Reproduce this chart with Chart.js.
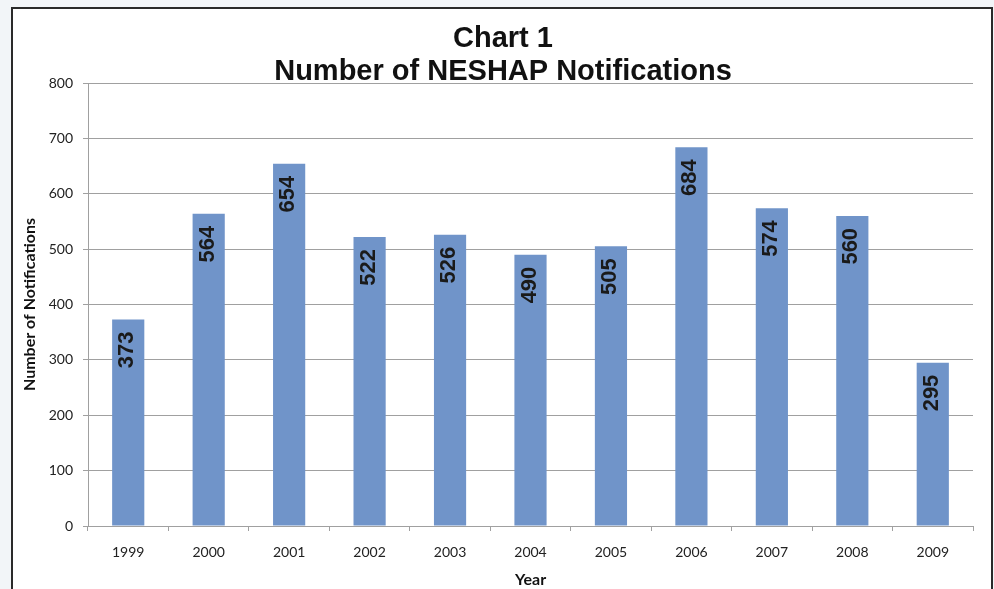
<!DOCTYPE html>
<html>
<head>
<meta charset="utf-8">
<script src="https://cdn.jsdelivr.net/npm/chart.js@4"></script>
<style>
  html, body { margin: 0; padding: 0; background: #f2f5f8; }
  #frame {
    position: absolute; left: 11px; top: 7px;
    width: 978px; height: 600px;
    background: #fff; border: 2px solid #2a2a2a;
  }
  #wrap { position: absolute; left: 0; top: 0; width: 994px; height: 589px; }
</style>
</head>
<body>
<div id="frame"></div>
<div id="wrap"><canvas id="grafico" width="994" height="589"></canvas></div>
<script>
// datos del grafico
const anios = ["1999", "2000", "2001", "2002", "2003", "2004", "2005", "2006", "2007", "2008", "2009"];
const notificaciones = [373, 564, 654, 522, 526, 490, 505, 684, 574, 560, 295];
const tituloLineas = ["Chart 1", "Number of NESHAP Notifications"];
const tituloY = "Number of Notifications";
const tituloX = "Year";

const fuenteEjes = "Lato, 'Open Sans', sans-serif";

// titulo de dos lineas centrado arriba
const tituloPlugin = {
  id: "tituloPlugin",
  afterDraw(chart) {
    const c = chart.ctx;
    c.save();
    c.fillStyle = "#111";
    c.font = "bold 29px 'Liberation Sans', Arial, sans-serif";
    c.textAlign = "center";
    c.textBaseline = "alphabetic";
    c.fillText(tituloLineas[0], 503, 47);
    c.fillText(tituloLineas[1], 503, 80);
    c.restore();
  },
};

// valores rotados dentro de cada barra
const etiquetasPlugin = {
  id: "etiquetasPlugin",
  afterDatasetsDraw(chart) {
    const c = chart.ctx;
    const meta = chart.getDatasetMeta(0);
    c.save();
    c.fillStyle = "#1a1a1a";
    c.font = "bold 22px 'Liberation Sans', Arial, sans-serif";
    c.textAlign = "right";
    c.textBaseline = "middle";
    meta.data.forEach((bar, i) => {
      c.save();
      c.translate(bar.x - 1, bar.y + 12);
      c.rotate(-Math.PI / 2);
      c.fillText(String(notificaciones[i]), 0, 0);
      c.restore();
    });
    c.restore();
  },
};

new Chart(document.getElementById("grafico"), {
  type: "bar",
  data: {
    labels: anios,
    datasets: [
      {
        data: notificaciones,
        backgroundColor: "#7094c9",
        borderWidth: 0,
        barPercentage: 0.4,
        categoryPercentage: 1,
      },
    ],
  },
  options: {
    responsive: false,
    animation: false,
    devicePixelRatio: 1,
    layout: { padding: { top: 83, right: 21, bottom: 0, left: 0 } },
    plugins: {
      legend: { display: false },
      tooltip: { enabled: false },
      title: { display: false },
    },
    scales: {
      x: {
        afterFit(scale) { scale.height = 63; },
        grid: {
          offset: true,
          drawOnChartArea: false,
          drawTicks: true,
          tickLength: 5,
          color: "#a0a0a0",
        },
        border: { color: "#a0a0a0", width: 1 },
        ticks: { color: "#222", font: { family: fuenteEjes, size: 14 }, padding: 13 },
        title: {
          display: true,
          text: tituloX,
          color: "#111",
          font: { family: fuenteEjes, size: 16, weight: "bold" },
          padding: { top: 0, bottom: 0 },
        },
      },
      y: {
        min: 0,
        max: 800,
        afterFit(scale) { scale.width = 88; },
        ticks: {
          stepSize: 100,
          color: "#222",
          font: { family: fuenteEjes, size: 14 },
          padding: 10,
        },
        grid: { color: "#a0a0a0", tickLength: 5, lineWidth: 1 },
        border: { color: "#a0a0a0", width: 1 },
        title: {
          display: true,
          text: tituloY,
          color: "#111",
          font: { family: fuenteEjes, size: 16, weight: "bold" },
          padding: { top: 20, bottom: 0 },
        },
      },
    },
  },
  plugins: [tituloPlugin, etiquetasPlugin],
});
</script>
</body>
</html>
